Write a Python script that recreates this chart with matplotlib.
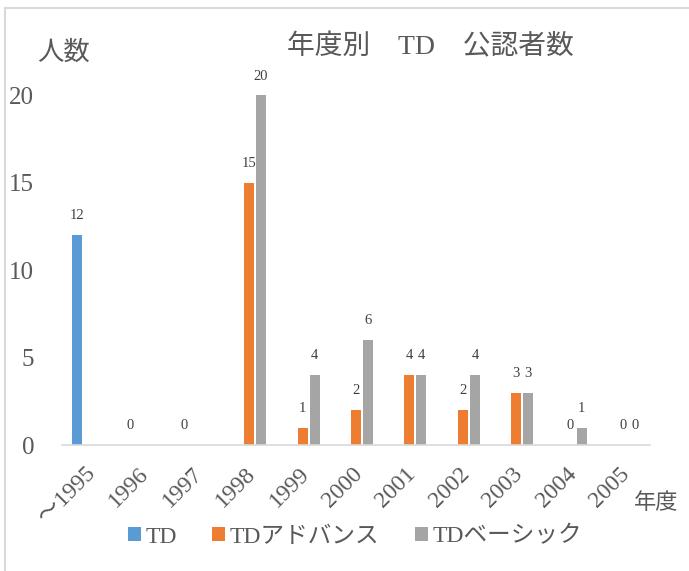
import matplotlib
matplotlib.use("Agg")
import matplotlib.pyplot as plt
from matplotlib.lines import Line2D
import matplotlib.transforms as mtransforms
import numpy as np

plt.rcParams['font.family'] = ['Liberation Serif', 'Noto Sans CJK JP']

categories = ['～1995', '1996', '1997', '1998', '1999', '2000', '2001', '2002', '2003', '2004', '2005']
series_names = ['TD', 'TDアドバンス', 'TDベーシック']
td = [12, 0, 0, None, None, None, None, None, None, None, None]
td_advance = [None, None, None, 15, 1, 2, 4, 2, 3, 0, 0]
td_basic = [None, None, None, 20, 4, 6, 4, 4, 3, 1, 0]
colors = ['#5B9BD5', '#ED7D31', '#A5A5A5']
yticks = [0, 5, 10, 15, 20]

W, H = 689, 571
fig = plt.figure(figsize=(W / 100, H / 100), dpi=100)
ax_left, ax_right = 62 / W, 650 / W
ax_bottom = 1 - 445 / H
ax_top = 1 - 78 / H
ax = fig.add_axes([ax_left, ax_bottom, ax_right - ax_left, ax_top - ax_bottom])

text_color = '#595959'
x = np.arange(len(categories))
offset = 0.2245
width = 0.187
all_series = [td, td_advance, td_basic]
handles = []
for k, (vals, col, name) in enumerate(zip(all_series, colors, series_names)):
    xs = [xi + (k - 1) * offset for xi, v in zip(x, vals) if v is not None]
    vs = [v for v in vals if v is not None]
    bars = ax.bar(xs, vs, width=width, color=col, label=name)
    handles.append(bars)
    for xi, v in zip(xs, vs):
        ax.annotate(str(v), (xi, v), xytext=(0, 14), textcoords='offset points',
                    ha='center', va='center', fontsize=10.5, color='#404040')

ax.set_xlim(-0.5, len(categories) - 0.5)
ax.set_ylim(0, 21)
ax.set_yticks(yticks)
ax.set_yticklabels([str(t) for t in yticks], fontsize=18, color=text_color)
ax.set_xticks(x)
ax.set_xticklabels(categories, rotation=45, ha='right', rotation_mode='anchor',
                   fontsize=17, color=text_color)
ax.tick_params(axis='both', length=0)
ax.tick_params(axis='y', pad=20)
ax.tick_params(axis='x', pad=13)
shift = mtransforms.ScaledTranslation(-4 / 100, 0, fig.dpi_scale_trans)
for lbl in ax.get_xticklabels():
    lbl.set_transform(lbl.get_transform() + shift)
for s in ['top', 'right', 'left']:
    ax.spines[s].set_visible(False)
ax.spines['bottom'].set_color('#D9D9D9')
ax.spines['bottom'].set_linewidth(1.2)

fig.text(430 / W, 1 - 47 / H, '年度別　TD　公認者数', ha='center', va='center',
         fontsize=20, color=text_color)
fig.text(64 / W, 1 - 53 / H, '人数', ha='center', va='center', fontsize=19, color=text_color)
fig.text(656 / W, 1 - 504 / H, '年度', ha='center', va='center', fontsize=16, color=text_color)

leg = fig.legend(handles=handles, labels=series_names, loc='center', bbox_to_anchor=(355 / W, 1 - 537 / H),
                 ncol=3, frameon=False, fontsize=17, handlelength=0.55, handleheight=0.55,
                 handletextpad=0.2, columnspacing=1.5, labelcolor=text_color)

fig.add_artist(Line2D([5 / W, 5 / W], [0, 1 - 8 / H], color='#D9D9D9', lw=1.5))
fig.add_artist(Line2D([5 / W, 1], [1 - 8 / H, 1 - 8 / H], color='#D9D9D9', lw=1.5))

fig.savefig('out.png', dpi=100)
